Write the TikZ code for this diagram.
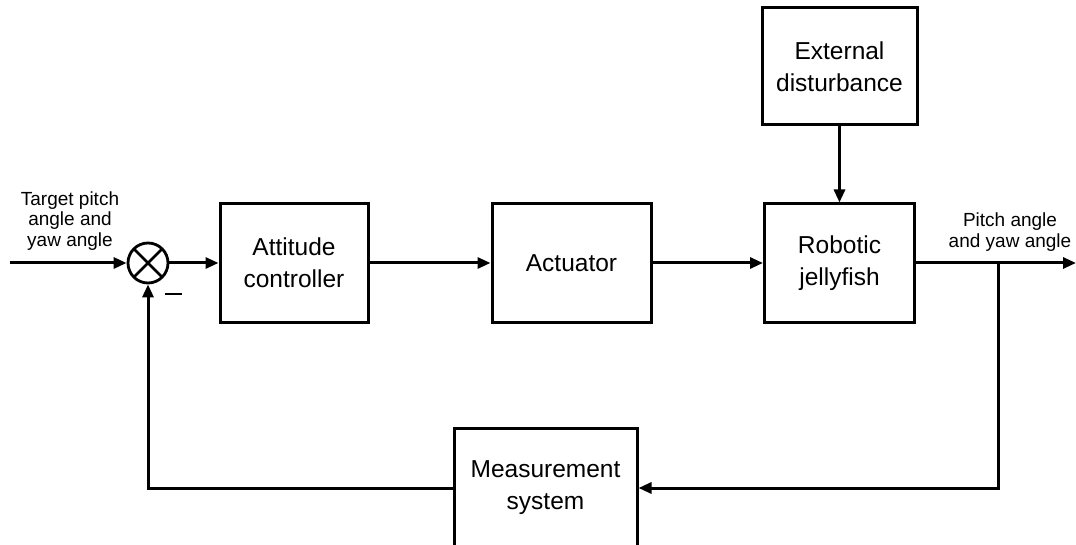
\documentclass[tikz,border=0pt]{standalone}
\usepackage{fontspec}
\setmainfont{Liberation Sans}
\usepackage{tikz}
\usetikzlibrary{arrows.meta,positioning,calc}
\tikzset{
  block/.style={draw=black,line width=3pt,fill=white,align=center,
    minimum width=150pt,minimum height=118pt,inner sep=4pt,
    font=\fontsize{24.5}{32}\selectfont},
  sum node/.style={draw=black,line width=2.8pt,circle,minimum size=40pt,inner sep=0pt,
    path picture={\draw[line width=2.8pt]
      (path picture bounding box.south west)--(path picture bounding box.north east)
      (path picture bounding box.north west)--(path picture bounding box.south east);}},
  signal label/.style={align=center,font=\fontsize{19}{20.5}\selectfont,inner sep=0pt},
  signal arrow/.style={-{Triangle[length=13pt,width=11pt]},line width=3pt,draw=black},
  signal line/.style={line width=3pt,draw=black}
}
\begin{document}
\begin{tikzpicture}[x=1pt,y=-1pt]
\clip (0,0) rectangle (1076,545);
\node[sum node] (sum) at (148,263) {};
\node[block,minimum width=148pt] (ctrl) at (294,263) {Attitude\\controller};
\node[block,minimum width=159pt] (act) at (571.5,263) {Actuator};
\node[block] (robot) at (839.5,263) {Robotic\\jellyfish};
\node[block,minimum width=155pt,minimum height=117pt] (dist) at (839.5,66.5) {External\\disturbance};
\node[block,minimum width=183pt,minimum height=120pt] (meas) at (545.5,488) {Measurement\\system};
\coordinate (in) at (10,263);
\coordinate (out) at (1076,263);
\coordinate (br) at (998,263);
\coordinate (fb) at (998,488);
\node[signal label] (target) at (70,221) {Target pitch\\angle and\\yaw angle};
\node[signal label] (result) at (1010,232) {Pitch angle\\and yaw angle};
\node[inner sep=0pt] (minus) at (173,294) {\rule{17pt}{2.6pt}};
% forward path
\draw[signal arrow] (in) -- (sum.west);
\draw[signal arrow] (sum.east) -- (ctrl.west);
\draw[signal arrow] (ctrl.east) -- (act.west);
\draw[signal arrow] (act.east) -- (robot.west);
\draw[signal arrow] (dist.south) -- (robot.north);
\draw[signal arrow] (robot.east) -- (out);
% feedback path
\draw[signal arrow] (br) -- (fb) -- (meas.east);
\draw[signal arrow] (meas.west) -| (sum.south);
\end{tikzpicture}
\end{document}
